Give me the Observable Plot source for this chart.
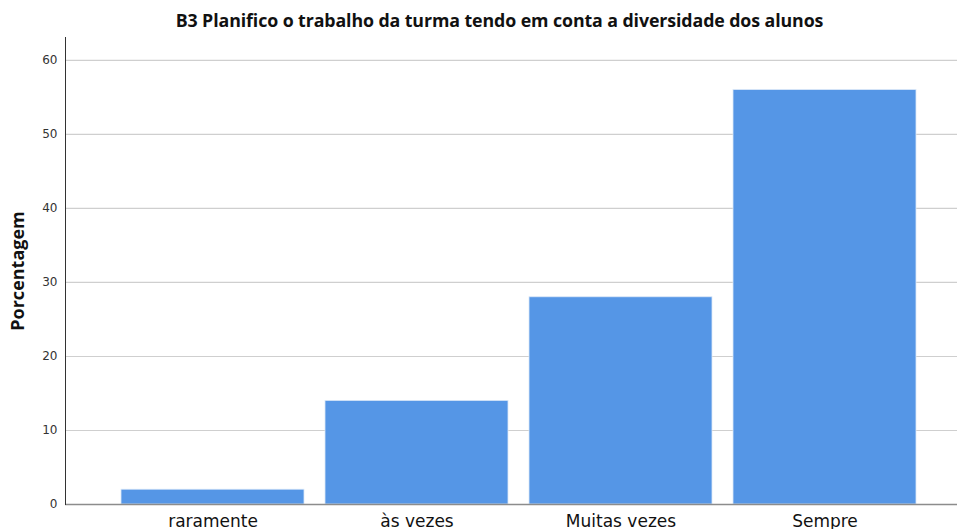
<!DOCTYPE html>
<html>
<head>
<meta charset="utf-8">
<script src="https://cdn.jsdelivr.net/npm/d3@7"></script>
<script src="https://cdn.jsdelivr.net/npm/@observablehq/plot@0.6"></script>
<style>
  body { margin: 0; background: #fff; width: 957px; height: 529px; overflow: hidden; }
  #title { height: 37px; line-height: 40px; text-align: center; padding-left: 42px;
           font-family: "Open Sans", sans-serif; font-weight: 700; font-size: 17.8px; color: #111; letter-spacing: -0.1px; }
  svg { overflow: visible; }
</style>
</head>
<body>
<div id="title">B3 Planifico o trabalho da turma tendo em conta a diversidade dos alunos</div>
<div id="chart"></div>
<script>
const categories = ["raramente", "às vezes", "Muitas vezes", "Sempre"];
const values = [2, 14, 28, 56];
const yTicks = [0, 10, 20, 30, 40, 50, 60];

const data = categories.map((c, i) => ({category: c, value: values[i]}));

const chart = Plot.plot({
  width: 957,
  height: 492,
  marginLeft: 65,
  marginRight: 0,
  marginTop: 0,
  marginBottom: 25,
  style: {fontFamily: "'DejaVu Sans', sans-serif", background: "#fff", overflow: "visible"},
  x: {domain: categories, range: [121, 916], padding: 0.103, paddingOuter: 0, label: null},
  y: {domain: [0, 63.1], label: null},
  marks: [
    Plot.ruleY(yTicks.filter(d => d > 0), {stroke: "#cfcfcf", strokeWidth: 1.2}),
    Plot.barY(data, {x: "category", y: "value", fill: "#5596e6", stroke: "#dbe8f8", strokeWidth: 0.8}),
    Plot.ruleY([0], {stroke: "#8c8c8c", strokeWidth: 1.5}),
    Plot.frame({anchor: "left", stroke: "#333", strokeWidth: 1}),
    Plot.axisY({ticks: yTicks, tickSize: 0, tickPadding: 8, fontSize: 12, color: "#333", label: null}),
    Plot.axisX({tickSize: 0, tickPadding: 10, fontSize: 17, color: "#111", label: null}),
    Plot.text(["Porcentagem"], {frameAnchor: "left", textAnchor: "middle", dx: -47, rotate: -90, fontSize: 18, fontWeight: "bold", fill: "#111",
      fontFamily: "'Open Sans', sans-serif"})
  ]
});
document.getElementById("chart").appendChild(chart);
</script>
</body>
</html>
